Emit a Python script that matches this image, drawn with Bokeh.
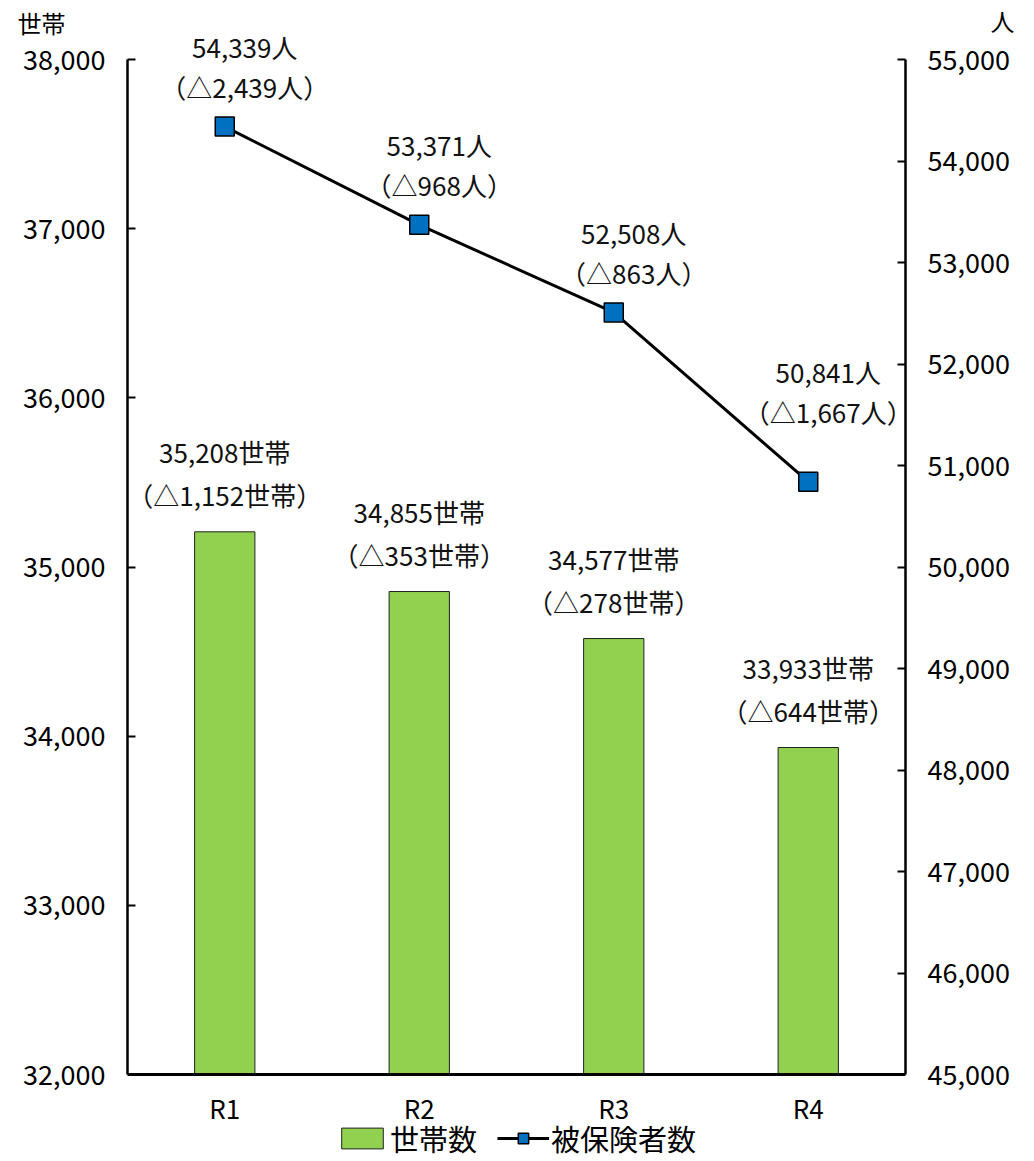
from bokeh.plotting import figure
from bokeh.models import (Range1d, LinearAxis, FixedTicker, Legend, LegendItem,
                          ColumnDataSource, NumeralTickFormatter, Span)
from bokeh.core.properties import value
from bokeh.embed import file_html
from bokeh.resources import INLINE

categories = ["R1", "R2", "R3", "R4"]
households = [35208, 34855, 34577, 33933]
household_diff = [1152, 353, 278, 644]
insured = [54339, 53371, 52508, 50841]
insured_diff = [2439, 968, 863, 1667]
left_ticks = [32000, 33000, 34000, 35000, 36000, 37000, 38000]
right_ticks = [45000, 46000, 47000, 48000, 49000, 50000, 51000, 52000, 53000, 54000, 55000]
left_unit = "世帯"
right_unit = "人"

FONT = "Noto Sans CJK JP"
BAR_COLOR = "#92D050"
MARK_COLOR = "#0070C0"

# layout (pixels)
AXIS_SPAN = 1015      # pixel height between lowest and highest tick
EXTRA_TOP = 59        # frame room above the highest tick
EXTRA_BOTTOM = 87     # frame room below the lowest tick (category labels, legend)
FRAME_H = AXIS_SPAN + EXTRA_TOP + EXTRA_BOTTOM
LINE_LABEL_LIFT = [0, 0, 0, 30]   # extra upward shift of each line label (px)


def extended(ticks):
    lo, hi = ticks[0], ticks[-1]
    k = (hi - lo) / AXIS_SPAN
    return Range1d(lo - EXTRA_BOTTOM * k, hi + EXTRA_TOP * k)


xs = [i + 0.5 for i in range(len(categories))]

src = ColumnDataSource(dict(
    x=xs,
    cat=categories,
    base=[left_ticks[0]] * len(categories),
    hh=households,
    hh_l1=[f"{v:,}世帯" for v in households],
    hh_l2=[f"（△{v:,}世帯）" for v in household_diff],
    ins=insured,
    ins_l1=[f"{v:,}人" for v in insured],
    ins_l2=[f"（△{v:,}人）" for v in insured_diff],
    dy1=[-80 - d for d in LINE_LABEL_LIFT],
    dy2=[-40 - d for d in LINE_LABEL_LIFT],
))

left_range = extended(left_ticks)
right_range = extended(right_ticks)
unit_left_pos = left_ticks[-1] + (left_ticks[-1] - left_ticks[0]) * 37 / AXIS_SPAN
unit_right_pos = right_ticks[-1] + (right_ticks[-1] - right_ticks[0]) * 39 / AXIS_SPAN

p = figure(frame_width=778, frame_height=FRAME_H,
           output_backend="svg", toolbar_location=None,
           x_range=Range1d(0, len(categories)),
           y_range=left_range, x_axis_location=None,
           min_border_left=127, min_border_right=129,
           min_border_top=0, min_border_bottom=0)
p.outline_line_color = None
p.grid.visible = False
p.background_fill_color = "white"
p.border_fill_color = "white"

p.extra_y_ranges = {"right": right_range}


def style_value_axis(ax):
    ax.major_tick_in = 8
    ax.major_tick_out = 0
    ax.minor_tick_line_color = None
    ax.axis_line_width = 2.5
    ax.axis_line_color = "black"
    ax.major_tick_line_width = 2
    ax.major_label_text_font = FONT
    ax.major_label_text_font_size = "27px"
    ax.major_label_text_color = "black"
    ax.major_label_standoff = 22


def style_unit_axis(ax, standoff):
    ax.axis_line_color = None
    ax.major_tick_line_color = None
    ax.minor_tick_line_color = None
    ax.major_tick_in = 0
    ax.major_tick_out = 0
    ax.major_label_text_font = FONT
    ax.major_label_text_font_size = "24px"
    ax.major_label_text_color = "black"
    ax.major_label_standoff = standoff


# left axis
ya = p.yaxis[0]
ya.ticker = FixedTicker(ticks=left_ticks)
ya.formatter = NumeralTickFormatter(format="0,0")
ya.bounds = (left_ticks[0], left_ticks[-1])
style_value_axis(ya)

# left unit label (outer axis)
ua = LinearAxis(ticker=FixedTicker(ticks=[unit_left_pos]),
                major_label_overrides={unit_left_pos: left_unit})
style_unit_axis(ua, -45)
p.add_layout(ua, "left")

# right axis
ra = LinearAxis(y_range_name="right", ticker=FixedTicker(ticks=right_ticks),
                formatter=NumeralTickFormatter(format="0,0"),
                bounds=(right_ticks[0], right_ticks[-1]))
style_value_axis(ra)
p.add_layout(ra, "right")

ub = LinearAxis(y_range_name="right", ticker=FixedTicker(ticks=[unit_right_pos]),
                major_label_overrides={unit_right_pos: right_unit})
style_unit_axis(ub, -22)
p.add_layout(ub, "right")

# category axis baseline and labels
p.add_layout(Span(location=left_ticks[0], dimension="width",
                  line_color="black", line_width=3))
p.text(x="x", y="base", text="cat", source=src, y_offset=33,
       text_font=value(FONT), text_font_size="26px", text_color="black",
       text_align="center", text_baseline="middle")

bars = p.vbar(x="x", top="hh", bottom=left_ticks[0], width=0.31, source=src,
              fill_color=BAR_COLOR, line_color="#222222", line_width=1)

ln = p.line(x="x", y="ins", source=src, y_range_name="right",
            line_color="black", line_width=3)
mk = p.scatter(x="x", y="ins", source=src, y_range_name="right",
               marker="square", size=19, fill_color=MARK_COLOR,
               line_color="black", line_width=1.5)

txt = dict(text_font=value(FONT), text_font_size="26px", text_color="#111111",
           text_align="center", text_baseline="middle")
p.text(x="x", y="hh", text="hh_l1", source=src, y_offset=-80, **txt)
p.text(x="x", y="hh", text="hh_l2", source=src, y_offset=-37, **txt)
p.text(x="x", y="ins", text="ins_l1", source=src, y_range_name="right",
       x_offset=20, y_offset="dy1", **txt)
p.text(x="x", y="ins", text="ins_l2", source=src, y_range_name="right",
       x_offset=20, y_offset="dy2", **txt)

legend = Legend(items=[LegendItem(label="世帯数", renderers=[bars]),
                       LegendItem(label="被保険者数", renderers=[ln, mk])],
                orientation="horizontal", location="bottom_center",
                label_text_font=FONT, label_text_font_size="29px",
                label_text_color="black", border_line_color=None,
                background_fill_alpha=0, glyph_width=52, glyph_height=26,
                label_standoff=2, spacing=20, padding=0, margin=2)
p.add_layout(legend, "center")

open("out.html", "w").write(file_html(p, INLINE))
